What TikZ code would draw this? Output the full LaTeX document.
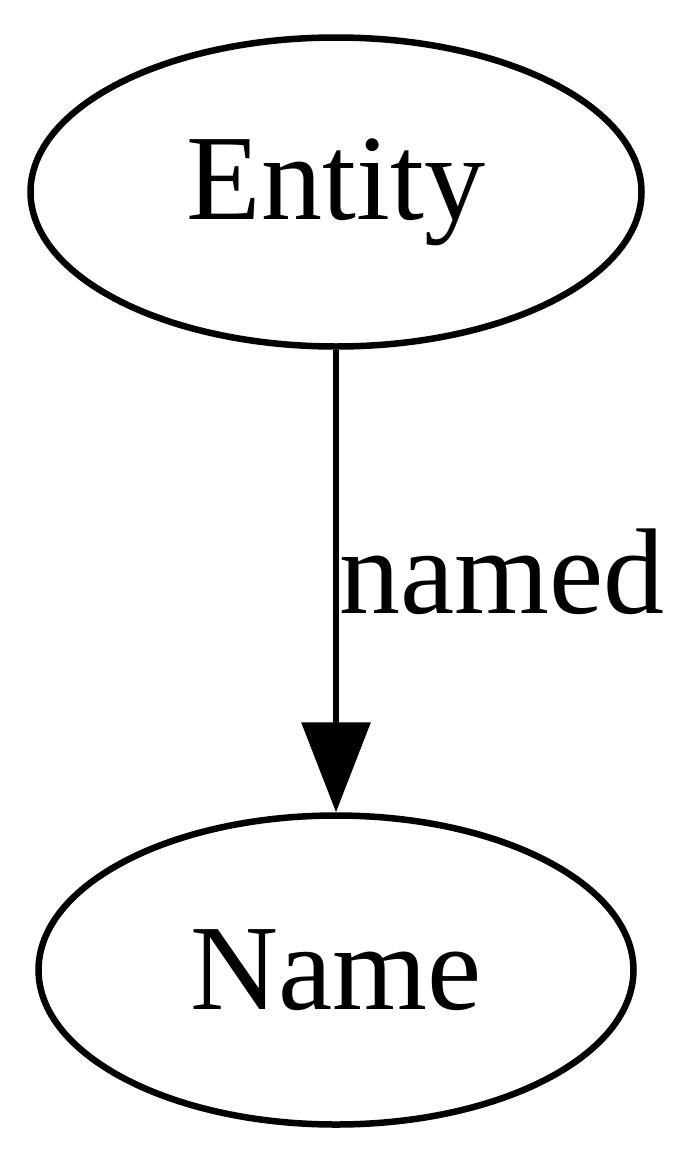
\documentclass[tikz,border=0pt]{standalone}
\usepackage{fontspec}
\setmainfont{Liberation Serif}
\usepackage{tikz}
\usetikzlibrary{shapes.geometric,arrows.meta}

\begin{document}
\begin{tikzpicture}[x=1pt,y=-1pt,line width=6.5pt,
  font=\fontsize{122}{146}\selectfont,
  blob/.style={draw,ellipse,inner sep=0pt,minimum height=309pt}]
\useasboundingbox (0,0) rectangle (700,1164);
\node[blob,minimum width=611pt] (entity) at (336,192) {Entity};
\node[blob,minimum width=595pt] (name) at (336,970) {Name};
\draw[-{Triangle[length=90pt,width=68pt]}] (entity) -- (name)
  node[pos=0.57,anchor=base west,inner sep=0pt] (lbl) {named};
\end{tikzpicture}
\end{document}
